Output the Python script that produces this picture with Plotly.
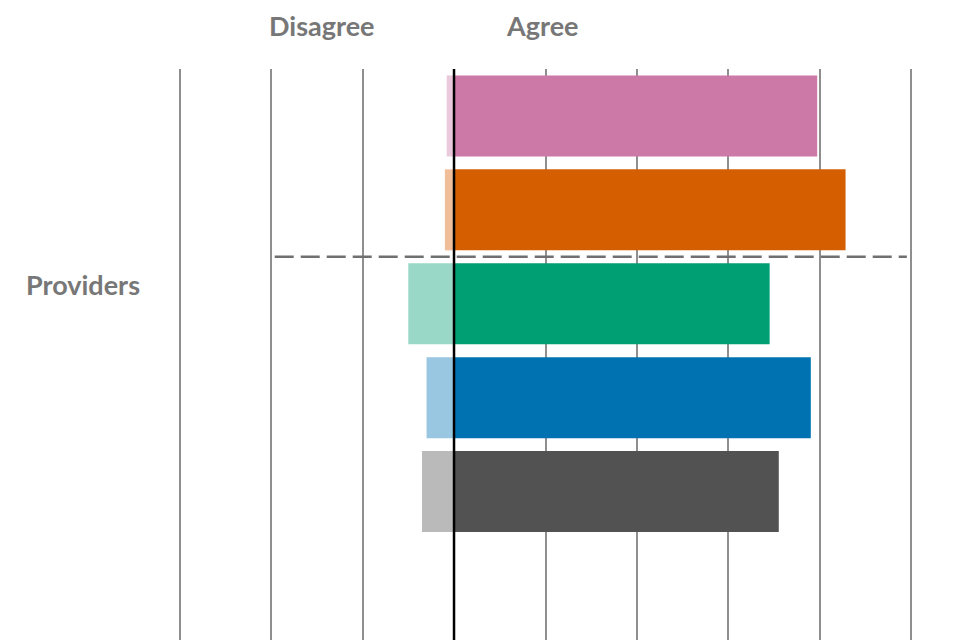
import plotly.graph_objects as go

# Data (percent of respondents)
rows = ["Row 1", "Row 2", "Row 3", "Row 4", "Row 5"]
agree = [39.7, 42.8, 34.5, 39.0, 35.5]
disagree = [-0.8, -1.0, -5.0, -3.0, -3.5]
group_label = "Providers"
header_left = "Disagree"
header_right = "Agree"
x_ticks = [-30, -20, -10, 0, 10, 20, 30, 40, 50]

colors_agree = ["#CC79A7", "#D55E00", "#009E73", "#0072B2", "#525252"]
colors_disagree = ["#EBC9DC", "#F0BE99", "#99D8C7", "#99C6E0", "#BABABA"]

fig = go.Figure()
fig.add_trace(go.Bar(
    y=rows, x=disagree, orientation="h",
    marker=dict(color=colors_disagree, line=dict(width=0)),
    showlegend=False, hoverinfo="x+y",
))
fig.add_trace(go.Bar(
    y=rows, x=agree, orientation="h",
    marker=dict(color=colors_agree, line=dict(width=0)),
    showlegend=False, hoverinfo="x+y",
))

# zero line above bars
fig.add_shape(type="line", xref="x", yref="paper", x0=0, x1=0, y0=0, y1=1,
              line=dict(color="black", width=2.5), layer="above")
# dashed separator between row 2 and row 3
fig.add_shape(type="line", xref="x", yref="y", x0=-19.6, x1=49.5, y0=1.5, y1=1.5,
              line=dict(color="#707070", width=2.5, dash="19px,7px"), layer="above")

font_txt = dict(family="Lato, 'Open Sans', sans-serif", size=27, color="#777777")
fig.add_annotation(x=-14.48, xref="x", y=1.0745, yref="paper", text="<b>%s</b>" % header_left,
                   showarrow=False, font=font_txt, xanchor="center", yanchor="middle")
fig.add_annotation(x=9.62, xref="x", y=1.0745, yref="paper", text="<b>%s</b>" % header_right,
                   showarrow=False, font=font_txt, xanchor="center", yanchor="middle")
fig.add_annotation(x=-0.1235, xref="paper", y=0.627, yref="paper", text="<b>%s</b>" % group_label,
                   showarrow=False, font=font_txt, xanchor="center", yanchor="middle")

fig.update_layout(
    width=960, height=640,
    margin=dict(l=167, r=52, t=61, b=0),
    paper_bgcolor="white", plot_bgcolor="white",
    barmode="relative", bargap=0.137,
    xaxis=dict(range=[-30.5, 50.5], tickvals=x_ticks, showticklabels=False,
               showgrid=True, gridcolor="#8f8f8f", gridwidth=1.7,
               zeroline=False, showline=False, fixedrange=True),
    yaxis=dict(categoryorder="array", categoryarray=rows, range=[5.666, -0.5],
               showticklabels=False, showgrid=False, zeroline=False, showline=False),
)

fig.write_html("out.html")
